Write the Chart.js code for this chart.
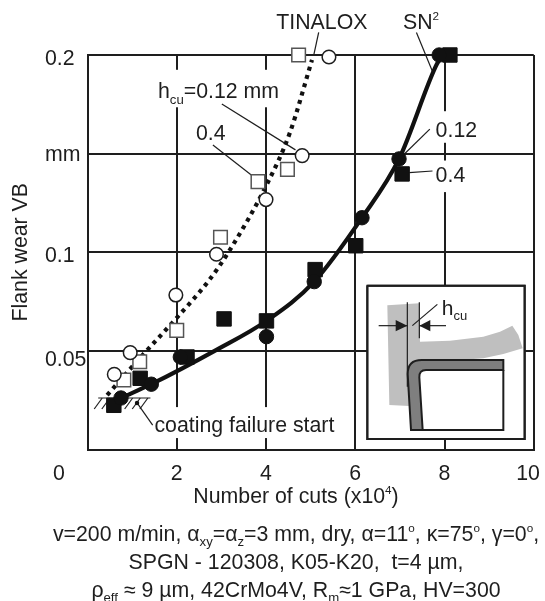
<!DOCTYPE html>
<html><head><meta charset="utf-8">
<style>html,body{margin:0;padding:0;background:#fff}canvas{display:block}</style>
<script src="https://cdn.jsdelivr.net/npm/chart.js@4/dist/chart.umd.min.js"></script>
</head><body><canvas id="c" width="545" height="601"></canvas>
<script>
const xTickLabels = ['0','2','4','6','8','10'];
const yTickLabels = ['','0.05','0.1','mm','0.2'];
const xAxisTitle = [['Number of cuts (x10',0],['4',2],[')',0]];
const yAxisTitle = 'Flank wear VB';

const tinaloxFine = [[5.41,.199],[4.81,.149],[4.0,.1267],[2.89,.099],[1.98,.0783],[.957,.0491],[.6,.0381]];
const tinaloxCoarse = [[4.73,.2],[4.48,.142],[3.82,.1358],[2.98,.1076],[2.0,.0604],[1.17,.0445],[.815,.0352]];
const sn2Fine = [[7.88,.2],[6.98,.1473],[6.15,.1175],[5.08,.0851],[4.01,.0572],[2.08,.0469],[1.43,.0331],[.75,.0261]];
const sn2Coarse = [[8.12,.2],[7.05,.1397],[6.01,.1033],[5.1,.0912],[4.01,.0652],[3.06,.0662],[2.23,.0469],[1.18,.0361],[.59,.0224]];
const tinaloxCurve = [[.44,.0276],[1.285,.0491],[1.99,.0665],[2.7,.0851],[3.18,.1008],[4.0,.1336],[4.53,.1603],[5.03,.1975]];
const sn2Curve = [[.6,.0245],[.75,.0261],[1.43,.0331],[2.89,.0505],[4.01,.0652],[5.08,.0851],[6.15,.1175],[6.98,.1473],[7.8,.1941],[7.91,.1985]];

const leaders = [
  [[5.18,.2115],[5.07,.2]],
  [[3.01,.1752],[4.66,.1519]],
  [[2.81,.1544],[3.67,.1392]],
  [[7.37,.2114],[7.73,.1916]],
  [[7.67,.1624],[7.1,.1498]],
  [[7.73,.1412],[7.21,.1404]],
  [[1.11,.0236],[1.46,.0124]]
];
const failureLine = [[.24,.0261],[1.41,.0261]];
const failureDot = [[1.11,.0236]];

// text: segments, x value, y value, anchor in data units
const notes = [
  {segs:[['TINALOX',0]], x:4.23, y:.2133},
  {segs:[['SN',0],['2',2]], x:7.07, y:.2133},
  {segs:[['h',0],['cu',1],['=0.12 mm',0]], x:1.58, y:.178, box:[1.45,.1925,4.38,.1735]},
  {segs:[['0.4',0]], x:2.43, y:.1567},
  {segs:[['0.12',0]], x:7.8, y:.1582, box:[7.7,.1715,8.95,.1555]},
  {segs:[['0.4',0]], x:7.8, y:.1358, box:[7.7,.1465,8.95,.1305]},
  {segs:[['coating failure start',0]], x:1.5, y:.0091, box:[1.45,.0215,5.5,.0058]}
];
const captionLines = [
  [['v=200 m/min, α',0],['xy',1],['=α',0],['z',1],['=3 mm, dry, α=11',0],['o',2],[', κ=75',0],['o',2],[', γ=0',0],['o',2],[',',0]],
  [['SPGN - 120308, K05-K20,  t=4 µm,',0]],
  [['ρ',0],['eff',1],[' ≈ 9 µm, 42CrMo4V, R',0],['m',1],['≈1 GPa, HV=300',0]]
];

const INK = '#1e1e1e';
const FAM = '"Liberation Sans", Arial, sans-serif';
const FS = 21.3;
const xy = a => a.map(p => ({x:p[0], y:p[1]}));

function rich(ctx, segs, x, base, center, size) {
  size = size || FS;
  const fontFor = k => (k === 0 ? size : k === 1 ? size*.62 : size*.55) + 'px ' + FAM;
  let w = 0;
  segs.forEach(s => { ctx.font = fontFor(s[1]); w += ctx.measureText(s[0]).width; });
  let cx = center ? x - w/2 : x;
  ctx.textAlign = 'left'; ctx.textBaseline = 'alphabetic'; ctx.fillStyle = INK;
  segs.forEach(s => {
    ctx.font = fontFor(s[1]);
    const dy = s[1] === 1 ? size*.24 : s[1] === 2 ? -size*.42 : 0;
    ctx.fillText(s[0], cx, base + dy);
    cx += ctx.measureText(s[0]).width;
  });
}

function drawInset(ctx) {
  const P = (zx, zy) => [350 + zx/3, 270 + zy/3];
  const poly = (pts, fill, stroke, lw) => {
    ctx.beginPath();
    pts.forEach((p,i) => { const q = P(p[0],p[1]); i ? ctx.lineTo(q[0],q[1]) : ctx.moveTo(q[0],q[1]); });
    if (fill) { ctx.closePath(); ctx.fillStyle = fill; ctx.fill(); }
    if (stroke) { ctx.strokeStyle = stroke; ctx.lineWidth = lw; ctx.stroke(); }
  };
  poly([[52,47],[524,47],[524,507],[52,507]], '#fff', INK, 2);
  poly([[52,47],[524,47],[524,507],[52,507],[52,47]], null, INK, 2);
  poly([[112,106],[208,100],[210,215],[300,212],[400,200],[450,185],[487,167],[505,195],[518,235],[460,252],[400,265],[300,272],[180,285],[178,408],[118,405]], '#bfbfbf');
  // tool
  ctx.beginPath();
  let q;
  const m=(a,b)=>{q=P(a,b);ctx.moveTo(q[0],q[1]);}, l=(a,b)=>{q=P(a,b);ctx.lineTo(q[0],q[1]);};
  const c=(a,b,d,e)=>{const u=P(a,b),v=P(d,e);ctx.quadraticCurveTo(u[0],u[1],v[0],v[1]);};
  m(183,480); l(173,312); c(173,270,215,270); l(460,270); l(460,300); l(228,300); c(207,300,208,322); l(218,480);
  ctx.closePath(); ctx.fillStyle='#7f7f7f'; ctx.fill(); ctx.strokeStyle=INK; ctx.lineWidth=2; ctx.stroke();
  poly([[218,480],[460,480],[460,300]], null, INK, 2);
  poly([[172,97],[172,350]], null, INK, 1.2);
  poly([[208,97],[208,205]], null, INK, 1.2);
  poly([[86,167],[172,167]], null, INK, 1.2);
  poly([[288,167],[208,167]], null, INK, 1.2);
  poly([[172,167],[137,150],[137,184]], INK);
  poly([[208,167],[241,150],[241,184]], INK);
  poly([[262,103],[187,167]], null, INK, 1.2);
  rich(ctx, [['h',0],['cu',1]], 441.7, 314.5, false, 21);
}

const decorations = {
  id:'decorations',
  beforeDraw(chart) {
    const offsetsY = [0,9,4,1.5,4];
    const y = chart.scales.y, x = chart.scales.x;
    const yi = y.getLabelItems();
    if (!yi._moved) {
      yi.forEach((it,i) => { it.options.translation[0] = 45; it.options.textAlign = 'left'; it.options.translation[1] += offsetsY[i]; });
      yi._moved = true;
    }
    const xi = x.getLabelItems();
    if (!xi._moved) {
      xi[0].options.translation[0] = 59;
      xi[5].options.translation[0] = 528;
      xi._moved = true;
    }
  },
  beforeDatasetsDraw(chart) {
    const {ctx} = chart, sx = chart.scales.x, sy = chart.scales.y;
    ctx.save();
    notes.forEach(n => {
      if (n.box) {
        const a = sx.getPixelForValue(n.box[0]), b = sy.getPixelForValue(n.box[1]);
        const c = sx.getPixelForValue(n.box[2]), d = sy.getPixelForValue(n.box[3]);
        ctx.fillStyle = '#fff'; ctx.fillRect(a, b, c-a, d-b);
      }
    });
    drawInset(ctx);
    // hatch marks beneath the failure line
    const hy = sy.getPixelForValue(failureLine[0][1]);
    ctx.strokeStyle = INK; ctx.lineWidth = 1.2;
    const x0 = sx.getPixelForValue(failureLine[0][0]), x1 = sx.getPixelForValue(failureLine[1][0]);
    for (let i = 0; i < 7; i++) {
      const tx = x0 + 4 + i*(x1 - x0 - 2)/6.6;
      ctx.beginPath(); ctx.moveTo(tx, hy); ctx.lineTo(tx - 8, hy + 11); ctx.stroke();
    }
    notes.forEach(n => rich(ctx, n.segs, sx.getPixelForValue(n.x), sy.getPixelForValue(n.y), false));
    rich(ctx, xAxisTitle, 296, 503, true);
    captionLines.forEach((segs,i) => rich(ctx, segs, 296, 541 + i*28, true));
    ctx.restore();
  }
};

const marks = (data, style, radius, bg, border, bw, order) => ({
  data: xy(data), type:'line', showLine:false, pointStyle:style, pointRadius:radius, pointHoverRadius:radius,
  pointBackgroundColor:bg, pointBorderColor:border, pointBorderWidth:bw, order, clip:false
});
const curve = (data, dash, order) => ({
  data: xy(data), type:'line', borderColor:'#111', borderWidth:4.2, borderDash:dash, pointRadius:0,
  cubicInterpolationMode:'monotone', fill:false, order, clip:false, borderCapStyle:'butt'
});
const thin = (data, order) => ({
  data: xy(data), type:'line', borderColor:INK, borderWidth:1.2, pointRadius:0, fill:false, order, clip:false
});

const datasets = [
  marks(sn2Fine,'circle',7.2,'#111','#111',1,1),
  marks(sn2Coarse,'rect',10.2,'#111','#111',1,2),
  marks(tinaloxFine,'circle',6.8,'#fff',INK,1.5,3),
  marks(tinaloxCoarse,'rect',9.6,'#fff','#555',1.5,4),
  curve(sn2Curve,[],5),
  curve(tinaloxCurve,[4,4.6],6),
  marks(failureDot,'circle',2.2,'#111','#111',0,7),
  thin(failureLine,8),
  ...leaders.map((l,i) => thin(l,9+i))
];

new Chart(document.getElementById('c'), {
  type:'line',
  data:{datasets},
  plugins:[decorations],
  options:{
    responsive:false, animation:false, devicePixelRatio:1,
    layout:{padding:{top:55,right:10,left:0,bottom:0}},
    plugins:{legend:{display:false},tooltip:{enabled:false},title:{display:false}},
    scales:{
      x:{
        type:'linear', min:0, max:10,
        afterFit(s){ s.height = 151.5; s.paddingLeft = 0; s.paddingRight = 0; },
        grid:{color:INK,lineWidth:2,drawTicks:false},
        border:{color:INK,width:2},
        ticks:{stepSize:2,autoSkip:false,maxRotation:0,padding:12,color:INK,font:{family:FAM,size:FS},
          callback:(v,i)=>xTickLabels[i]}
      },
      y:{
        type:'linear', min:0, max:.2,
        afterFit(s){ s.width = 87.5; s.paddingTop = 0; s.paddingBottom = 0; },
        grid:{color:INK,lineWidth:2,drawTicks:false},
        border:{color:INK,width:2},
        title:{display:true,text:yAxisTitle,color:INK,font:{family:FAM,size:FS},padding:{top:8,bottom:0}},
        ticks:{stepSize:.05,autoSkip:false,padding:8,color:INK,font:{family:FAM,size:FS},
          callback:(v,i)=>yTickLabels[i]}
      }
    }
  }
});
</script></body></html>
